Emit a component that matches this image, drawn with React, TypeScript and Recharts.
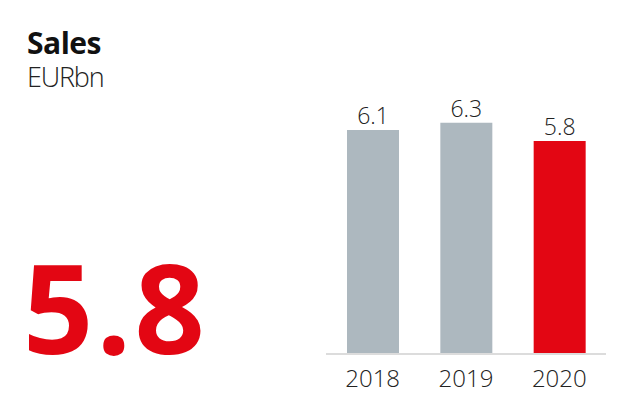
import React from "react";
import { BarChart, Bar, XAxis, YAxis, Cell, LabelList } from "recharts";

const years = ["2018", "2019", "2020"];
const sales = [6.1, 6.3, 5.8];
const barColors = ["#adb8bf", "#adb8bf", "#e30613"];
const title = "Sales";
const unit = "EURbn";
const headline = "5.8";

const data = years.map((y, i) => ({ year: y, value: sales[i] }));

const FONT = "'Open Sans', sans-serif";

export default function App() {
  return (
    <div
      style={{
        position: "absolute",
        left: 0,
        top: 0,
        width: 625,
        height: 417,
        background: "#fff",
        fontFamily: FONT,
      }}
    >
      <div
        style={{
          position: "absolute",
          left: 27,
          top: 28,
          fontSize: 30,
          lineHeight: 1,
          fontWeight: 700,
          color: "#111",
          whiteSpace: "nowrap",
          letterSpacing: -0.5,
        }}
      >
        {title}
      </div>
      <div
        style={{
          position: "absolute",
          left: 27,
          top: 63,
          fontSize: 27,
          lineHeight: 1,
          fontWeight: 300,
          color: "#222",
          whiteSpace: "nowrap",
          letterSpacing: -1.2,
        }}
      >
        {unit}
      </div>
      <div
        style={{
          position: "absolute",
          left: 23,
          top: 245,
          fontSize: 123,
          lineHeight: 1,
          fontWeight: 700,
          color: "#e30613",
          whiteSpace: "nowrap",
          letterSpacing: 3,
        }}
      >
        {headline}
      </div>
      <BarChart
        width={625}
        height={417}
        data={data}
        margin={{ top: 97, right: 19, bottom: 33, left: 326 }}
        style={{ position: "absolute", left: 0, top: 0 }}
      >
        <XAxis
          dataKey="year"
          tickLine={false}
          axisLine={{ stroke: "#dcdcdc", strokeWidth: 2 }}
          tickMargin={10}
          tick={{ fontSize: 24, fill: "#222", fontFamily: FONT, fontWeight: 300 }}
        />
        <YAxis hide domain={[0, 7]} />
        <Bar dataKey="value" barSize={52} isAnimationActive={false}>
          {data.map((d, i) => (
            <Cell key={d.year} fill={barColors[i]} />
          ))}
          <LabelList
            dataKey="value"
            position="top"
            offset={6}
            style={{ fontSize: 23, fill: "#222", fontFamily: FONT, fontWeight: 300 }}
          />
        </Bar>
      </BarChart>
    </div>
  );
}
